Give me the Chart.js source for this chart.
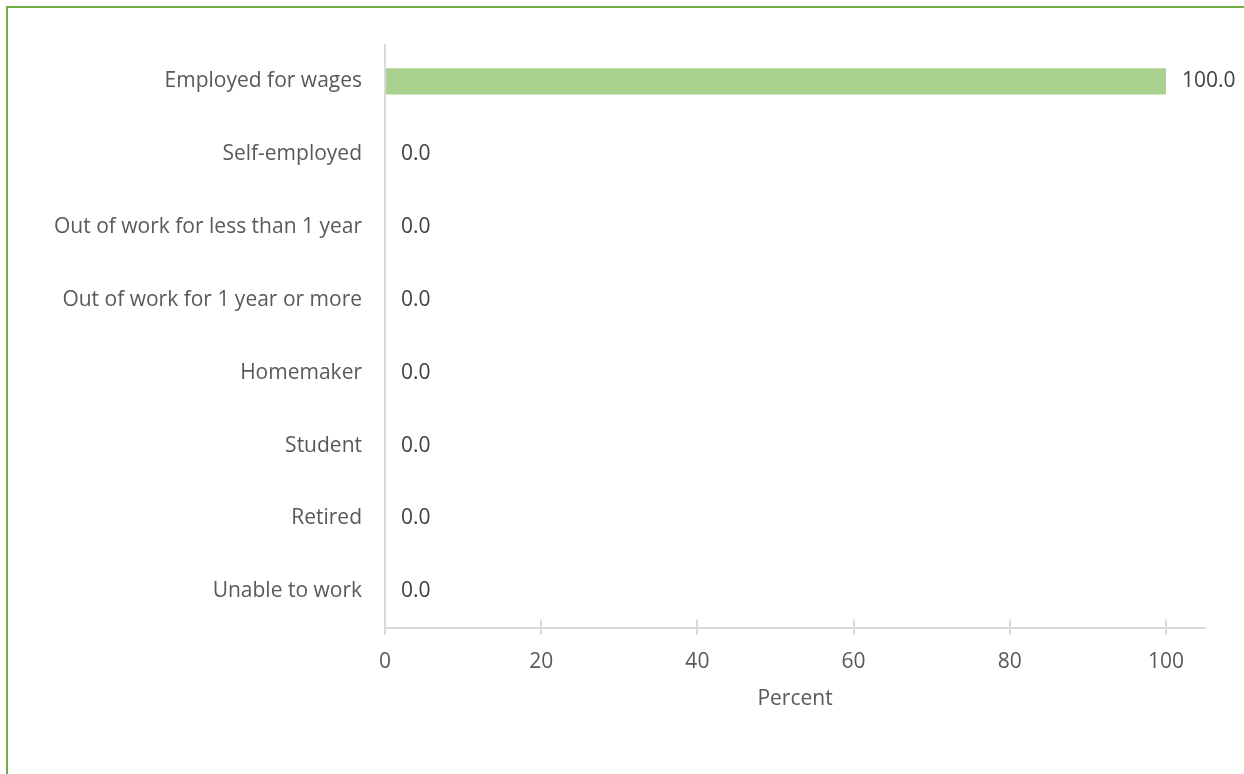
<!DOCTYPE html>
<html>
<head>
<meta charset="utf-8">
<title>Employment status</title>
<script src="https://cdn.jsdelivr.net/npm/chart.js@4.4.1/dist/chart.umd.min.js"></script>
<style>
    html, body { margin: 0; padding: 0; background: #ffffff; overflow: hidden; }
    #marco {
        position: absolute; left: 6px; top: 6px;
        width: 1250px; height: 800px;
        border-left: 2px solid #70ad47; border-top: 2px solid #70ad47;
    }
    #contenedor { position: absolute; left: 0; top: 0; width: 1244px; height: 774px; }
</style>
</head>
<body>
<div id="marco"></div>
<div id="contenedor"><canvas id="myChart" width="1244" height="774"></canvas></div>
<script>
const categorias = [
    'Employed for wages',
    'Self-employed',
    'Out of work for less than 1 year',
    'Out of work for 1 year or more',
    'Homemaker',
    'Student',
    'Retired',
    'Unable to work'
]
const porcentajes = [100.0, 0.0, 0.0, 0.0, 0.0, 0.0, 0.0, 0.0]
const ticksX = [0, 20, 40, 60, 80, 100]

const fuente = { family: 'Open Sans', size: 21 }
const colorTexto = '#595959'
const colorEje = '#d9d9d9'

// etiquetas de valor al final de cada barra
const etiquetasValor = {
    id: 'etiquetasValor',
    afterDatasetsDraw(chart) {
        const ctx = chart.ctx
        const meta = chart.getDatasetMeta(0)
        ctx.save()
        ctx.font = `${fuente.size}px ${fuente.family}`
        ctx.fillStyle = '#404040'
        ctx.textAlign = 'left'
        ctx.textBaseline = 'middle'
        meta.data.forEach((barra, i) => {
            ctx.fillText(porcentajes[i].toFixed(1), barra.x + 16, barra.y)
        })
        ctx.restore()
    }
}

// marcas del eje x que cruzan la línea (parte superior)
const marcasCruzadas = {
    id: 'marcasCruzadas',
    afterDraw(chart) {
        const ctx = chart.ctx
        const escala = chart.scales.x
        const y = escala.top
        ctx.save()
        ctx.strokeStyle = colorEje
        ctx.lineWidth = 2
        ticksX.forEach(v => {
            const x = Math.round(escala.getPixelForValue(v))
            ctx.beginPath()
            ctx.moveTo(x, y - 8)
            ctx.lineTo(x, y)
            ctx.stroke()
        })
        ctx.restore()
    }
}

const ctx = document.getElementById('myChart').getContext('2d')
const myChart = new Chart(ctx, {
    type: 'bar',
    data: {
        labels: categorias,
        datasets: [{
            data: porcentajes,
            backgroundColor: '#a9d18e',
            borderWidth: 0,
            categoryPercentage: 1,
            barPercentage: 0.36
        }]
    },
    options: {
        indexAxis: 'y',
        responsive: false,
        animation: false,
        layout: {
            padding: { top: 45, left: 0, right: 39, bottom: 58 }
        },
        plugins: {
            legend: { display: false },
            tooltip: { enabled: false }
        },
        scales: {
            x: {
                min: 0,
                max: 105,
                afterBuildTicks: escala => {
                    escala.ticks = ticksX.map(v => ({ value: v }))
                },
                afterFit: escala => { escala.height -= 4 },
                grid: {
                    drawOnChartArea: false,
                    drawTicks: true,
                    tickLength: 7,
                    color: colorEje,
                    lineWidth: 2
                },
                border: { display: true, color: colorEje, width: 2 },
                ticks: { color: colorTexto, font: fuente, padding: 15 },
                title: {
                    display: true,
                    text: 'Percent',
                    color: colorTexto,
                    font: fuente,
                    padding: { top: 1, bottom: 4 }
                }
            },
            y: {
                afterFit: escala => { escala.width = 385 },
                grid: { display: false, drawTicks: false },
                border: { display: true, color: colorEje, width: 2 },
                ticks: { color: colorTexto, font: fuente, padding: 23 }
            }
        }
    },
    plugins: [etiquetasValor, marcasCruzadas]
})
</script>
</body>
</html>
